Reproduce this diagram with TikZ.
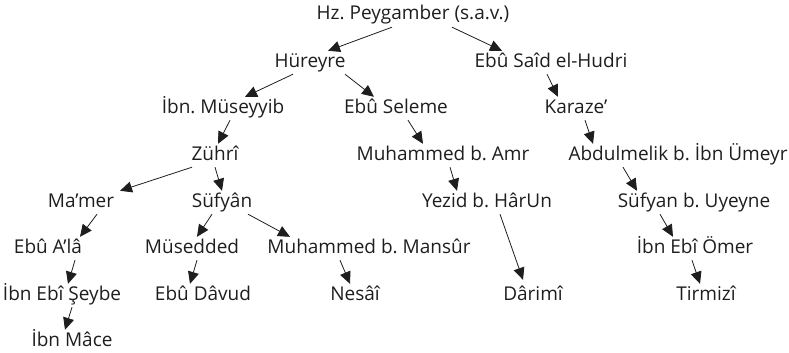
\documentclass[tikz,border=0pt]{standalone}
\usepackage{fontspec}
\setmainfont{Open Sans}
\usetikzlibrary{arrows.meta}
\definecolor{ink}{HTML}{1E1E1E}
\frenchspacing
\begin{document}
\begin{tikzpicture}[x=1pt, y=-1pt,
    narrator/.style={anchor=base, inner xsep=0pt, inner ysep=2pt, text height=14pt, text depth=5pt,
      text=ink, font=\fontsize{19}{22}\selectfont},
    link/.style={draw=ink, line width=0.8pt, -{Triangle[length=12pt, width=11pt]}}]
    \useasboundingbox (0, 0) rectangle (789, 353);
    %\draw[lightgray] (0, 0) grid[step=50] (789, 353);

    \node[narrator] (peygamber) at (413, 20) {Hz. Peygamber (s.a.v.)};

    \node[narrator] (hureyre) at (310, 67) {Hüreyre};
    \node[narrator] (hudri) at (551, 67) {Ebû Saîd el-Hudri};

    \node[narrator] (museyyib) at (223, 113) {İbn. Müseyyib};
    \node[narrator] (seleme) at (396, 113) {Ebû Seleme};
    \node[narrator] (karaze) at (576, 113) {Karaze’};

    \node[narrator] (zuhri) at (215, 160) {Zührî};
    \node[narrator] (amr) at (443, 160) {Muhammed b. Amr};
    \node[narrator] (abdulmelik) at (678, 160) {Abdulmelik b. İbn Ümeyr};

    \node[narrator] (mamer) at (81, 207) {Ma’mer};
    \node[narrator] (sufyan) at (222, 207) {Süfyân};
    \node[narrator] (yezid) at (487, 207) {Yezid b. HârUn};
    \node[narrator] (uyeyne) at (694, 207) {Süfyan b. Uyeyne};

    \node[narrator] (ala) at (48, 253) {Ebû A’lâ};
    \node[narrator] (musedded) at (192, 253) {Müsedded};
    \node[narrator] (mansur) at (369, 253) {Muhammed b. Mansûr};
    \node[narrator] (omer) at (695, 253) {İbn Ebî Ömer};

    \node[narrator] (seybe) at (62, 300) {İbn Ebî Şeybe};
    \node[narrator] (davud) at (203, 300) {Ebû Dâvud};
    \node[narrator] (nesai) at (355, 300) {Nesâî};
    \node[narrator] (darimi) at (533, 300) {Dârimî};
    \node[narrator] (tirmizi) at (706, 300) {Tirmizî};

    \node[narrator] (mace) at (72, 346) {İbn Mâce};

    \draw[link] ([xshift=-21pt]peygamber.south) -- ([xshift=18pt]hureyre.north);
    \draw[link] ([xshift=39pt]peygamber.south) -- ([xshift=-49pt]hudri.north);

    \draw[link] ([xshift=-17pt]hureyre.south) -- ([xshift=22pt]museyyib.north);
    \draw[link] ([xshift=35pt]hureyre.south) -- ([xshift=-22pt]seleme.north);
    \draw[link] ([xshift=-4pt]hudri.south) -- ([xshift=-18pt]karaze.north);

    \draw[link] ([xshift=7pt]museyyib.south) -- ([xshift=3pt]zuhri.north);
    \draw[link] ([xshift=12pt]seleme.south) -- ([xshift=-20pt]amr.north);
    \draw[link] ([xshift=9pt]karaze.south) -- ([xshift=-85pt]abdulmelik.north);

    \draw[link] ([xshift=-23pt]zuhri.south) -- ([xshift=39pt]mamer.north);
    \draw[link] (zuhri.south) -- (sufyan.north);
    \draw[link] ([xshift=7pt]amr.south) -- ([xshift=-30pt]yezid.north);
    \draw[link] ([xshift=-55pt]abdulmelik.south) -- ([xshift=-57pt]uyeyne.north);

    \draw[link] ([xshift=16pt]mamer.south) -- ([xshift=32pt]ala.north);
    \draw[link] ([xshift=-10pt]sufyan.south) -- ([xshift=5pt]musedded.north);
    \draw[link] ([xshift=26pt]sufyan.south) -- ([xshift=-79pt]mansur.north);
    \draw[link] ([xshift=-34pt]uyeyne.south) -- ([xshift=-22pt]omer.north);

    \draw[link] ([xshift=27pt]ala.south) -- ([xshift=6pt]seybe.north);
    \draw[link] ([xshift=5pt]musedded.south) -- ([xshift=-13pt]davud.north);
    \draw[link] ([xshift=-29pt]mansur.south) -- ([xshift=-5pt]nesai.north);
    \draw[link] ([xshift=13pt]yezid.south) -- ([xshift=-10pt,yshift=4pt]darimi.north);
    \draw[link] ([xshift=-3pt]omer.south) -- ([xshift=-6pt]tirmizi.north);

    \draw[link] ([xshift=10pt]seybe.south) -- ([xshift=-7pt]mace.north);
\end{tikzpicture}
\end{document}
